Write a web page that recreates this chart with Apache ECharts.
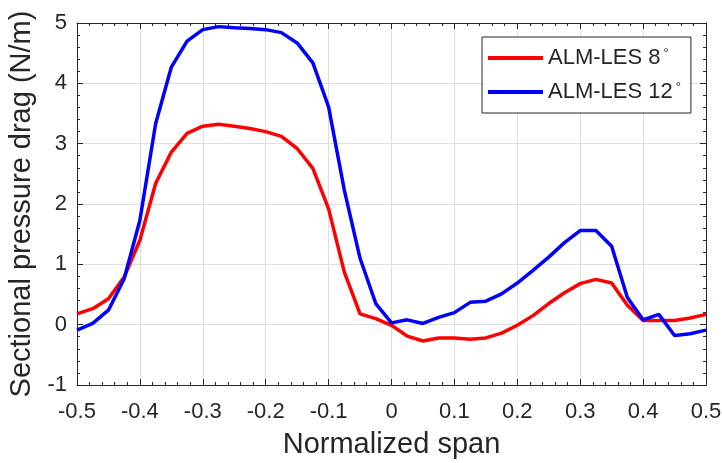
<!DOCTYPE html>
<html>
<head>
<meta charset="utf-8">
<script src="https://cdn.jsdelivr.net/npm/echarts@6/dist/echarts.min.js"></script>
<style>html,body{margin:0;padding:0;background:#fff;}#c{width:722px;height:463px;}</style>
</head>
<body>
<div id="c"></div>
<script>
// Normalized span positions
const spanPositions = [-0.5,-0.475,-0.45,-0.425,-0.4,-0.375,-0.35,-0.325,-0.3,-0.275,-0.25,-0.225,-0.2,-0.175,-0.15,-0.125,-0.1,-0.075,-0.05,-0.025,0,0.025,0.05,0.075,0.1,0.125,0.15,0.175,0.2,0.225,0.25,0.275,0.3,0.325,0.35,0.375,0.4,0.425,0.45,0.475,0.5];
// ALM-LES 8 deg
const drag8 = [0.18,0.265,0.43,0.79,1.40,2.34,2.86,3.17,3.29,3.32,3.29,3.25,3.20,3.12,2.92,2.59,1.92,0.87,0.18,0.10,-0.01,-0.19,-0.27,-0.22,-0.22,-0.24,-0.22,-0.14,-0.01,0.15,0.35,0.53,0.68,0.75,0.69,0.32,0.07,0.07,0.07,0.11,0.17];
// ALM-LES 12 deg
const drag12 = [-0.09,0.02,0.24,0.76,1.73,3.33,4.27,4.70,4.89,4.94,4.92,4.91,4.89,4.84,4.67,4.34,3.61,2.23,1.10,0.35,0.03,0.08,0.02,0.12,0.20,0.37,0.39,0.51,0.69,0.90,1.12,1.36,1.56,1.56,1.30,0.45,0.08,0.17,-0.18,-0.15,-0.09];
const seriesNames = ['ALM-LES 8°', 'ALM-LES 12°'];
const xAxisTitle = 'Normalized span';
const yAxisTitle = 'Sectional pressure drag (N/m)';
const xRange = [-0.5, 0.5, 0.1];
const yRange = [-1, 5, 1];

const FONT = '"Liberation Sans", Arial, Helvetica, sans-serif';
const INK = '#262626';
const GRIDC = '#dedede';

function pairs(ys) { return spanPositions.map((x, i) => [x, ys[i]]); }

function axisBase(show) {
  return {
    axisLine: { show: true, onZero: false, lineStyle: { color: INK, width: 1 } },
    axisTick: { show: true, inside: true, length: 6, lineStyle: { color: INK, width: 1 } },
    minorTick: { show: true, splitNumber: 5, length: 3, lineStyle: { color: INK, width: 1 } },
    axisLabel: { show: show, color: INK, fontFamily: FONT, fontSize: 22 },
  };
}

const chart = echarts.init(document.getElementById('c'), null, { renderer: 'canvas' });
chart.setOption({
  animation: false,
  backgroundColor: '#fff',
  grid: { left: 77, right: 16, top: 23, bottom: 78, containLabel: false, outerBoundsMode: 'none' },
  xAxis: [
    Object.assign(axisBase(true), {
      type: 'value', position: 'bottom', min: xRange[0], max: xRange[1], interval: xRange[2],
      name: xAxisTitle, nameLocation: 'middle', nameGap: 45,
      nameTextStyle: { color: INK, fontFamily: FONT, fontSize: 29 },
      splitLine: { show: true, lineStyle: { color: GRIDC, width: 1 } },
      axisLabel: { show: true, color: INK, fontFamily: FONT, fontSize: 22, margin: 16,
        formatter: v => (Math.round(v * 10) / 10).toString() }
    }),
    Object.assign(axisBase(false), {
      type: 'value', position: 'top', min: xRange[0], max: xRange[1], interval: xRange[2],
      splitLine: { show: false }
    })
  ],
  yAxis: [
    Object.assign(axisBase(true), {
      type: 'value', position: 'left', min: yRange[0], max: yRange[1], interval: yRange[2],
      name: yAxisTitle, nameLocation: 'middle', nameGap: 37,
      nameTextStyle: { color: INK, fontFamily: FONT, fontSize: 29 },
      splitLine: { show: true, lineStyle: { color: GRIDC, width: 1 } },
      axisLabel: { show: true, color: INK, fontFamily: FONT, fontSize: 22, margin: 10 }
    }),
    Object.assign(axisBase(false), {
      type: 'value', position: 'right', min: yRange[0], max: yRange[1], interval: yRange[2],
      splitLine: { show: false }
    })
  ],
  legend: {
    orient: 'vertical', left: 482, top: 37,
    padding: [10, 10, 10, 6], itemGap: 12, itemWidth: 55, itemHeight: 4, icon: 'rect',
    backgroundColor: '#fff', borderColor: INK, borderWidth: 1, borderRadius: 0,
    data: seriesNames,
    formatter: name => '{t|' + name.slice(0, -1) + '}{s|' + name.slice(-1) + '}',
    textStyle: {
      color: INK, fontFamily: FONT, fontSize: 22,
      rich: {
        t: { fontSize: 22, fontFamily: FONT, color: INK },
        s: { fontSize: 13, fontFamily: FONT, color: INK, verticalAlign: 'top', padding: [0, 0, 4, 3] }
      }
    }
  },
  series: [
    { name: seriesNames[0], type: 'line', xAxisIndex: 0, yAxisIndex: 0, data: pairs(drag8),
      symbol: 'none', smooth: false, color: '#ff0000', lineStyle: { color: '#ff0000', width: 3.5 } },
    { name: seriesNames[1], type: 'line', xAxisIndex: 0, yAxisIndex: 0, data: pairs(drag12),
      symbol: 'none', smooth: false, color: '#0000ff', lineStyle: { color: '#0000ff', width: 3.5 } }
  ]
});
</script>
</body>
</html>
